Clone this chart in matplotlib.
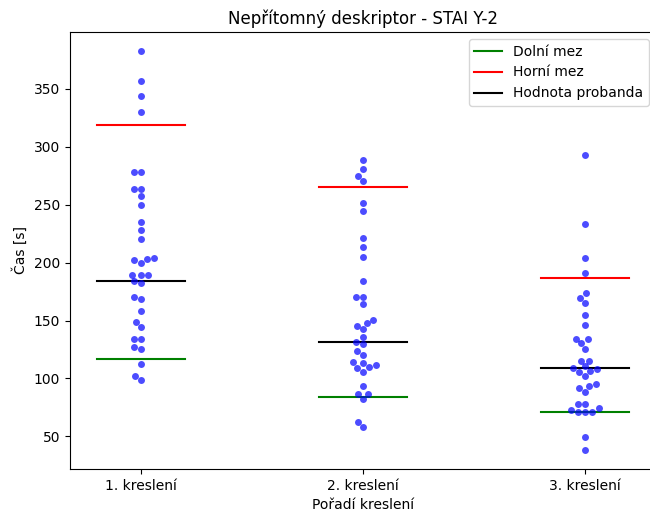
import matplotlib
matplotlib.use("Agg")
import matplotlib.pyplot as plt
import seaborn as sns
import pandas as pd

categories = ["1. kreslení", "2. kreslení", "3. kreslení"]

times_1 = [382.6, 357.2, 344.0, 330.4, 278.5, 277.9, 263.7, 263.7, 257.2, 249.9,
           235.2, 228.6, 220.2, 202.3, 200.1, 203.5, 204.4, 189.7, 189.7, 189.7,
           183.9, 182.7, 170.6, 168.9, 158.5, 148.7, 144.3, 134.5, 133.7, 127.4,
           125.6, 112.3, 101.9, 98.5]
times_2 = [288.6, 281.1, 274.7, 270.1, 251.6, 244.2, 221.3, 213.9, 204.9, 184.5,
           170.3, 170.6, 164.2, 150.1, 145.2, 147.5, 142.3, 136.0, 131.3, 129.6,
           123.9, 120.4, 114.0, 113.5, 108.8, 109.7, 111.4, 106.0, 93.3, 86.7,
           86.9, 82.4, 62.7, 58.1]
times_3 = [292.6, 233.5, 204.0, 191.1, 173.7, 169.8, 165.4, 155.1, 145.8, 134.5,
           133.7, 130.5, 125.3, 115.5, 115.5, 109.2, 110.6, 108.3, 106.0, 106.6,
           102.5, 91.9, 93.3, 95.0, 88.1, 78.0, 78.0, 72.5, 70.8, 70.8,
           71.4, 74.2, 49.5, 38.5]

lower_limit = [117.2, 84.4, 71.4]
upper_limit = [318.9, 265.2, 186.5]
subject_value = [183.9, 131.1, 109.4]

df = pd.DataFrame({
    "kresleni": [categories[0]] * len(times_1) + [categories[1]] * len(times_2) + [categories[2]] * len(times_3),
    "cas": times_1 + times_2 + times_3,
})

fig = plt.figure(figsize=(6.5, 5.12), dpi=100)
ax = fig.add_axes([70 / 650, 1 - 469 / 512, 586 / 650, 437 / 512])

sns.swarmplot(data=df, x="kresleni", y="cas", order=categories, color="blue",
              alpha=0.7, size=5, ax=ax)

hw = 0.2
for i in range(len(categories)):
    ax.plot([i - hw, i + hw], [lower_limit[i]] * 2, color="green",
            label="Dolní mez" if i == 0 else None)
    ax.plot([i - hw, i + hw], [upper_limit[i]] * 2, color="red",
            label="Horní mez" if i == 0 else None)
    ax.plot([i - hw, i + hw], [subject_value[i]] * 2, color="black",
            label="Hodnota probanda" if i == 0 else None)

ax.set_xlim(-0.32, 2.32)
ax.set_ylim(21.8, 399.2)
ax.set_title("Nepřítomný deskriptor - STAI Y-2")
ax.set_xlabel("Pořadí kreslení")
ax.set_ylabel("Čas [s]")
ax.legend(loc="upper right")

fig.savefig("out.png", dpi=100)
